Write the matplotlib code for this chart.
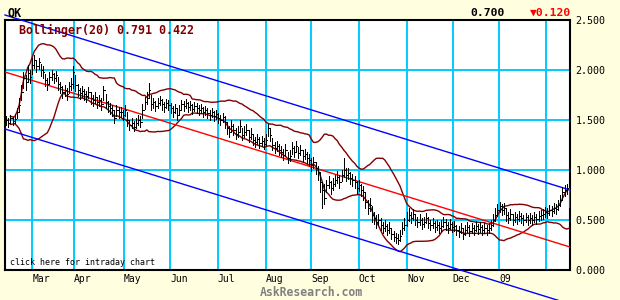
import numpy as np
import pandas as pd
import matplotlib
matplotlib.use("Agg")
import matplotlib.pyplot as plt
import matplotlib.transforms as mtransforms
from matplotlib.collections import LineCollection

# ---------------- data ----------------
closes = [
    1.50, 1.47, 1.52, 1.49, 1.51, 1.58, 1.65, 1.78, 1.92, 1.88,
    1.97, 1.93, 2.05, 2.10, 2.04, 2.08, 2.00, 1.98, 1.90, 1.86,
    1.93, 1.96, 1.92, 1.95, 1.86, 1.83, 1.78, 1.80, 1.76, 1.84,
    1.86, 1.98, 1.85, 1.80, 1.77, 1.79, 1.76, 1.74, 1.78, 1.72,
    1.70, 1.73, 1.68, 1.70, 1.66, 1.80, 1.68, 1.64, 1.62, 1.60,
    1.52, 1.60, 1.58, 1.58, 1.55, 1.60, 1.50, 1.45, 1.47, 1.43,
    1.47, 1.50, 1.48, 1.60, 1.68, 1.72, 1.80, 1.66, 1.68, 1.64,
    1.67, 1.70, 1.66, 1.63, 1.67, 1.65, 1.62, 1.58, 1.62, 1.55,
    1.60, 1.66, 1.64, 1.67, 1.63, 1.65, 1.61, 1.64, 1.62, 1.60,
    1.62, 1.58, 1.60, 1.57, 1.55, 1.58, 1.54, 1.56, 1.52, 1.50,
    1.53, 1.48, 1.42, 1.38, 1.44, 1.40, 1.36, 1.38, 1.44, 1.35,
    1.38, 1.40, 1.33, 1.36, 1.30, 1.28, 1.31, 1.27, 1.29, 1.26,
    1.30, 1.42, 1.35, 1.25, 1.22, 1.24, 1.20, 1.18, 1.15, 1.20,
    1.12, 1.14, 1.22, 1.18, 1.24, 1.17, 1.20, 1.14, 1.16, 1.12,
    1.10, 1.05, 1.08, 1.02, 0.98, 0.88, 0.80, 0.72, 0.85, 0.88,
    0.82, 0.86, 0.90, 0.93, 0.88, 0.95, 1.00, 0.95, 0.97, 0.92,
    0.90, 0.88, 0.82, 0.85, 0.80, 0.78, 0.68, 0.62, 0.65, 0.55,
    0.52, 0.48, 0.50, 0.45, 0.42, 0.44, 0.40, 0.42, 0.36, 0.33,
    0.32, 0.30, 0.34, 0.42, 0.45, 0.50, 0.55, 0.52, 0.56, 0.50,
    0.48, 0.50, 0.46, 0.48, 0.52, 0.47, 0.45, 0.47, 0.43, 0.45,
    0.42, 0.44, 0.48, 0.45, 0.42, 0.46, 0.43, 0.44, 0.40, 0.38,
    0.42, 0.36, 0.40, 0.43, 0.39, 0.42, 0.40, 0.44, 0.41, 0.43,
    0.40, 0.42, 0.40, 0.42, 0.45, 0.50, 0.55, 0.60, 0.64, 0.60,
    0.62, 0.55, 0.52, 0.56, 0.50, 0.53, 0.51, 0.54, 0.52, 0.50,
    0.53, 0.50, 0.52, 0.50, 0.53, 0.51, 0.54, 0.55, 0.56, 0.58,
    0.57, 0.60, 0.59, 0.62, 0.61, 0.65, 0.70, 0.78, 0.80, 0.82,
    0.70,
]
highs = [
    1.54, 1.52, 1.55, 1.53, 1.56, 1.62, 1.72, 1.85, 1.98, 1.95,
    2.05, 2.00, 2.12, 2.15, 2.10, 2.12, 2.06, 2.04, 1.96, 1.92,
    1.98, 2.00, 1.97, 1.99, 1.93, 1.88, 1.84, 1.85, 1.82, 1.88,
    1.92, 2.04, 1.95, 1.86, 1.82, 1.84, 1.81, 1.79, 1.83, 1.78,
    1.75, 1.78, 1.73, 1.75, 1.72, 1.84, 1.76, 1.69, 1.67, 1.65,
    1.60, 1.65, 1.63, 1.63, 1.60, 1.65, 1.58, 1.50, 1.52, 1.49,
    1.52, 1.55, 1.54, 1.66, 1.73, 1.78, 1.87, 1.75, 1.72, 1.69,
    1.72, 1.74, 1.71, 1.68, 1.71, 1.70, 1.67, 1.64, 1.66, 1.62,
    1.65, 1.70, 1.69, 1.71, 1.68, 1.69, 1.66, 1.68, 1.67, 1.65,
    1.66, 1.63, 1.64, 1.62, 1.60, 1.62, 1.59, 1.60, 1.57, 1.55,
    1.57, 1.54, 1.48, 1.44, 1.50, 1.46, 1.42, 1.44, 1.50, 1.42,
    1.44, 1.46, 1.40, 1.42, 1.36, 1.33, 1.36, 1.33, 1.34, 1.32,
    1.36, 1.46, 1.42, 1.32, 1.28, 1.29, 1.26, 1.24, 1.21, 1.26,
    1.18, 1.20, 1.28, 1.24, 1.29, 1.23, 1.25, 1.20, 1.21, 1.18,
    1.16, 1.12, 1.13, 1.08, 1.04, 0.98, 0.88, 0.86, 0.90, 0.94,
    0.89, 0.92, 0.95, 0.99, 0.95, 1.00, 1.12, 1.02, 1.02, 0.98,
    0.96, 0.94, 0.89, 0.90, 0.86, 0.84, 0.77, 0.70, 0.72, 0.64,
    0.58, 0.55, 0.56, 0.52, 0.48, 0.50, 0.46, 0.48, 0.42, 0.39,
    0.37, 0.36, 0.40, 0.48, 0.52, 0.58, 0.62, 0.58, 0.61, 0.56,
    0.53, 0.56, 0.52, 0.53, 0.57, 0.53, 0.50, 0.52, 0.49, 0.50,
    0.48, 0.50, 0.53, 0.51, 0.48, 0.51, 0.48, 0.49, 0.45, 0.44,
    0.47, 0.42, 0.45, 0.48, 0.45, 0.47, 0.45, 0.49, 0.46, 0.48,
    0.45, 0.47, 0.45, 0.47, 0.50, 0.56, 0.62, 0.66, 0.68, 0.66,
    0.67, 0.62, 0.58, 0.61, 0.56, 0.58, 0.56, 0.59, 0.57, 0.55,
    0.57, 0.55, 0.57, 0.55, 0.58, 0.56, 0.59, 0.60, 0.61, 0.63,
    0.62, 0.65, 0.64, 0.67, 0.66, 0.70, 0.75, 0.83, 0.85, 0.86,
    0.82,
]
lows = [
    1.45, 1.43, 1.47, 1.45, 1.47, 1.52, 1.58, 1.70, 1.82, 1.80,
    1.88, 1.87, 1.96, 2.02, 1.98, 2.01, 1.94, 1.92, 1.84, 1.80,
    1.86, 1.90, 1.87, 1.89, 1.80, 1.77, 1.72, 1.74, 1.70, 1.77,
    1.80, 1.82, 1.79, 1.74, 1.71, 1.73, 1.70, 1.68, 1.72, 1.66,
    1.64, 1.67, 1.62, 1.64, 1.60, 1.70, 1.62, 1.58, 1.56, 1.54,
    1.47, 1.54, 1.52, 1.53, 1.50, 1.54, 1.44, 1.40, 1.42, 1.39,
    1.42, 1.45, 1.43, 1.52, 1.61, 1.66, 1.72, 1.60, 1.62, 1.59,
    1.62, 1.65, 1.60, 1.58, 1.62, 1.60, 1.57, 1.53, 1.57, 1.50,
    1.55, 1.60, 1.59, 1.62, 1.58, 1.60, 1.56, 1.59, 1.57, 1.55,
    1.57, 1.53, 1.55, 1.52, 1.50, 1.53, 1.49, 1.51, 1.47, 1.45,
    1.48, 1.42, 1.36, 1.33, 1.38, 1.35, 1.31, 1.33, 1.38, 1.30,
    1.33, 1.35, 1.28, 1.31, 1.25, 1.23, 1.26, 1.22, 1.24, 1.21,
    1.25, 1.34, 1.29, 1.20, 1.17, 1.19, 1.15, 1.13, 1.10, 1.14,
    1.07, 1.09, 1.16, 1.13, 1.18, 1.12, 1.15, 1.09, 1.11, 1.07,
    1.04, 0.99, 1.02, 0.96, 0.90, 0.78, 0.62, 0.66, 0.78, 0.82,
    0.76, 0.80, 0.84, 0.87, 0.82, 0.89, 0.93, 0.89, 0.91, 0.86,
    0.84, 0.82, 0.76, 0.79, 0.74, 0.70, 0.62, 0.56, 0.59, 0.48,
    0.46, 0.42, 0.45, 0.40, 0.37, 0.39, 0.35, 0.37, 0.31, 0.29,
    0.27, 0.26, 0.29, 0.36, 0.40, 0.44, 0.49, 0.47, 0.50, 0.45,
    0.43, 0.45, 0.41, 0.43, 0.47, 0.42, 0.40, 0.42, 0.38, 0.40,
    0.37, 0.39, 0.43, 0.40, 0.37, 0.41, 0.38, 0.39, 0.35, 0.33,
    0.37, 0.31, 0.35, 0.38, 0.34, 0.37, 0.35, 0.39, 0.36, 0.38,
    0.35, 0.37, 0.35, 0.37, 0.40, 0.44, 0.49, 0.54, 0.58, 0.55,
    0.56, 0.49, 0.47, 0.50, 0.45, 0.48, 0.46, 0.49, 0.47, 0.45,
    0.48, 0.45, 0.47, 0.45, 0.48, 0.46, 0.49, 0.50, 0.51, 0.53,
    0.52, 0.55, 0.54, 0.57, 0.56, 0.60, 0.64, 0.70, 0.74, 0.76,
    0.63,
]
month_labels = ["Mar", "Apr", "May", "Jun", "Jul", "Aug", "Sep", "Oct", "Nov", "Dec", "09", ""]
month_pos = [12.2, 31.5, 54.3, 75.9, 97.7, 120.2, 141.0, 162.9, 185.3, 206.3, 227.8, 249.2]
trend_ends = [1.98, 0.23]        # regression line value at left / right edge
channel_width = 0.57             # offset of the blue channel lines
y_ticks = [0.0, 0.5, 1.0, 1.5, 2.0, 2.5]
ticker = "QK"
last_price = "0.700"
change_text = "\u25bc0.120"
boll_text = "Bollinger(20) 0.791 0.422"

# ---------------- figure ----------------
W, H = 620, 300
fig = plt.figure(figsize=(W / 100, H / 100), dpi=100, facecolor="#FFFFE0")
L, R, T, B = 5, 570, 20, 270
ax = fig.add_axes([L / W, 1 - B / H, (R - L) / W, (B - T) / H])
ax.set_facecolor("white")
n = len(closes)
ax.set_xlim(-0.5, n - 0.5)
ax.set_ylim(0, 2.5)

grid_c = "#00CCFF"
for y in y_ticks[1:-1]:
    ax.axhline(y, color=grid_c, lw=1.4, zorder=1)
for p in month_pos:
    ax.axvline(p, color=grid_c, lw=1.4, zorder=1)

mono = ["DejaVu Sans Mono", "DejaVu Sans"]

# y axis on right
ax.yaxis.tick_right()
ax.set_yticks(y_ticks)
ax.set_yticklabels([f"{v:.3f}" for v in y_ticks], family=mono, fontsize=7.2)
ax.tick_params(axis="y", length=0, pad=4)
ax.set_xticks([])
for s in ax.spines.values():
    s.set_color("black")
    s.set_linewidth(1.5)

trans = mtransforms.blended_transform_factory(ax.transData, ax.transAxes)
for p, lab in zip(month_pos, month_labels):
    ax.text(p, -0.018, lab, transform=trans, ha="left", va="top",
            family=mono, fontsize=7, color="black")

# Bollinger bands
cs = pd.Series(closes)
mid = cs.rolling(20, min_periods=3).mean()
sd = cs.rolling(20, min_periods=3).std(ddof=0)
xs = np.arange(n)
ax.plot(xs, mid + 2 * sd, color="#800000", lw=1, zorder=3)
ax.plot(xs, mid - 2 * sd, color="#800000", lw=1, zorder=3)

# regression channel
xe = [-0.5, n - 0.5]
ax.plot(xe, trend_ends, color="#FF0000", lw=1, zorder=3)
ax.plot(xe, [v + channel_width for v in trend_ends], color="#0000FF", lw=1,
        zorder=3, clip_on=False)
ax.plot(xe, [v - channel_width for v in trend_ends], color="#0000FF", lw=1,
        zorder=3, clip_on=False)

# price bars
segs, cols = [], []
for i, (h, l, c) in enumerate(zip(highs, lows, closes)):
    col = "#FF0000" if i == n - 1 else "black"
    segs.append([(i, l), (i, h)])
    segs.append([(i, c), (i + 0.6, c)])
    cols += [col, col]
ax.add_collection(LineCollection(segs, colors=cols, linewidths=0.72, zorder=4,
                                 antialiaseds=False))

# texts
fig.text(8 / W, 1 - 13 / H, ticker, family=mono, fontweight="bold", fontsize=8.5,
         va="center", ha="left")
fig.text(470 / W, 1 - 12.5 / H, last_price, family=mono, fontweight="bold",
         fontsize=8.2, va="center", ha="left")
fig.text(530 / W, 1 - 12.5 / H, change_text, family=mono, fontweight="bold",
         fontsize=8.2, va="center", ha="left", color="#FF0000")
fig.text(19 / W, 1 - 30 / H, boll_text, family=mono, fontweight="bold",
         fontsize=8.4, va="center", ha="left", color="#800000")
fig.text(10 / W, 1 - 262.5 / H, "click here for intraday chart", family=mono,
         fontsize=6, va="center", ha="left")
fig.text(260 / W, 1 - 292 / H, "AskResearch.com", family=mono, fontweight="bold",
         fontsize=8.3, va="center", ha="left", color="#808080")

fig.savefig("out.png", dpi=100, facecolor=fig.get_facecolor())
